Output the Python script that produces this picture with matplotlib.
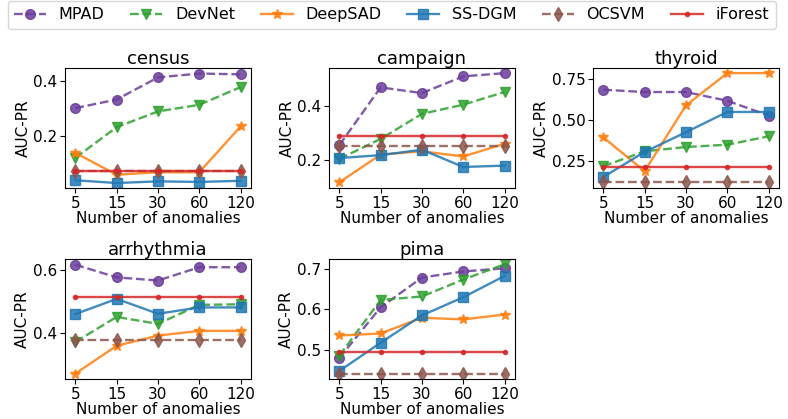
import matplotlib
matplotlib.use('Agg')
import matplotlib.pyplot as plt
import numpy as np

# x ticks: number of labeled anomalies
anomalies = ['5', '15', '30', '60', '120']

datasets = ['census', 'campaign', 'thyroid', 'arrhythmia', 'pima']

# AUC-PR values per dataset
mpad = {
    'census':     [0.302, 0.333, 0.413, 0.427, 0.424],
    'campaign':   [0.254, 0.468, 0.447, 0.509, 0.521],
    'thyroid':    [0.685, 0.671, 0.671, 0.618, 0.528],
    'arrhythmia': [0.616, 0.576, 0.566, 0.608, 0.608],
    'pima':       [0.479, 0.605, 0.679, 0.694, 0.702],
}
devnet = {
    'census':     [0.122, 0.233, 0.290, 0.314, 0.378],
    'campaign':   [0.203, 0.277, 0.370, 0.404, 0.451],
    'thyroid':    [0.220, 0.311, 0.337, 0.351, 0.402],
    'arrhythmia': [0.372, 0.451, 0.429, 0.489, 0.491],
    'pima':       [0.485, 0.623, 0.632, 0.674, 0.712],
}
deepsad = {
    'census':     [0.140, 0.061, 0.070, 0.070, 0.236],
    'campaign':   [0.116, 0.219, 0.231, 0.212, 0.259],
    'thyroid':    [0.396, 0.190, 0.590, 0.786, 0.786],
    'arrhythmia': [0.272, 0.360, 0.392, 0.407, 0.407],
    'pima':       [0.535, 0.540, 0.579, 0.575, 0.587],
}
ssdgm = {
    'census':     [0.041, 0.031, 0.037, 0.035, 0.039],
    'campaign':   [0.206, 0.217, 0.237, 0.173, 0.178],
    'thyroid':    [0.155, 0.307, 0.427, 0.550, 0.550],
    'arrhythmia': [0.460, 0.508, 0.461, 0.481, 0.481],
    'pima':       [0.447, 0.517, 0.585, 0.630, 0.683],
}
ocsvm = {
    'census':     [0.075, 0.075, 0.075, 0.075, 0.075],
    'campaign':   [0.252, 0.252, 0.252, 0.252, 0.252],
    'thyroid':    [0.122, 0.122, 0.122, 0.122, 0.122],
    'arrhythmia': [0.379, 0.379, 0.379, 0.379, 0.379],
    'pima':       [0.439, 0.439, 0.439, 0.439, 0.439],
}
iforest = {
    'census':     [0.073, 0.073, 0.073, 0.073, 0.073],
    'campaign':   [0.289, 0.289, 0.289, 0.289, 0.289],
    'thyroid':    [0.216, 0.216, 0.216, 0.216, 0.216],
    'arrhythmia': [0.514, 0.514, 0.514, 0.514, 0.514],
    'pima':       [0.493, 0.493, 0.493, 0.493, 0.493],
}

# (name, data, color, marker, linestyle, markersize)
methods = [
    ('MPAD', mpad, '#6a3d9a', 'o', '--', 7),
    ('DevNet', devnet, '#2ca02c', 'v', '--', 7),
    ('DeepSAD', deepsad, '#ff7f0e', '*', '-', 7),
    ('SS-DGM', ssdgm, '#1f77b4', 's', '-', 7),
    ('OCSVM', ocsvm, '#8c564b', 'd', '--', 7),
    ('iForest', iforest, '#d62728', '.', '-', 6),
]

ylims = {
    'census': (0.013, 0.447),
    'campaign': (0.095, 0.54),
    'thyroid': (0.088, 0.817),
    'arrhythmia': (0.255, 0.634),
    'pima': (0.427, 0.725),
}
yticks = {
    'census': [0.2, 0.4],
    'campaign': [0.2, 0.4],
    'thyroid': [0.25, 0.5, 0.75],
    'arrhythmia': [0.4, 0.6],
    'pima': [0.5, 0.6, 0.7],
}

fig = plt.figure(figsize=(7.88, 4.19), dpi=100)

# axes positions in figure fractions
lefts = [0.0825, 0.4175, 0.7525]
bottoms = [0.5513, 0.0955]
w, h = 0.236, 0.2864

x = np.arange(len(anomalies))
handles = []
for k, name in enumerate(datasets):
    row, col = divmod(k, 3)
    ax = fig.add_axes([lefts[col], bottoms[row], w, h])
    for label, data, color, marker, ls, ms in methods:
        line, = ax.plot(x, data[name], color=color, marker=marker, linestyle=ls,
                        markersize=ms, linewidth=1.7, alpha=0.85, label=label)
        if k == 0:
            handles.append(line)
    ax.set_title(name, fontsize=13, pad=3)
    ax.set_xticks(x)
    ax.set_xticklabels(anomalies)
    ax.set_ylim(*ylims[name])
    ax.set_yticks(yticks[name])
    ax.tick_params(labelsize=11, pad=2)
    ax.set_xlim(-0.25, 4.25)
    ax.set_ylabel('AUC-PR', fontsize=11, labelpad=2)
    ax.set_xlabel('Number of anomalies', fontsize=11, labelpad=0)

fig.legend(handles=handles, loc='upper center', ncol=6, fontsize=11.5,
           bbox_to_anchor=(0.497, 1.005), frameon=True, columnspacing=1.6,
           handlelength=2.0, borderaxespad=0.2)

plt.savefig('out.png', dpi=100)
